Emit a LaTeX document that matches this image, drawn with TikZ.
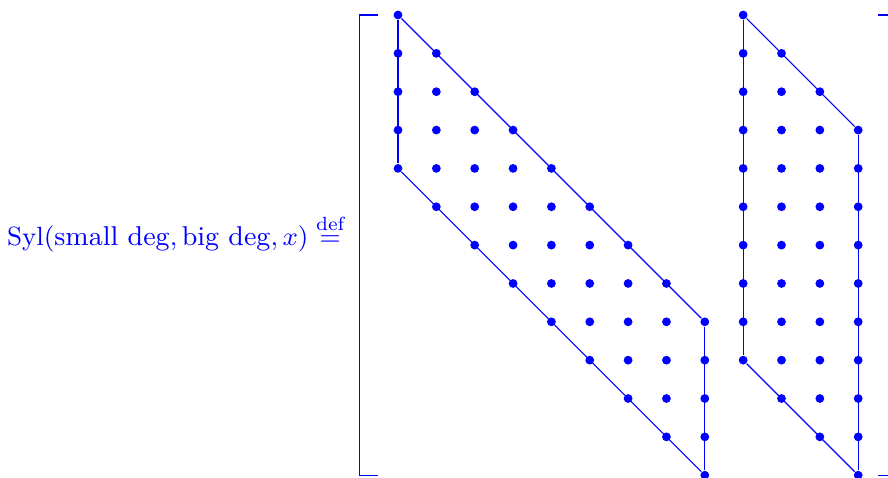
\documentclass[tikz,border=0pt]{standalone}
\usepackage{amsmath}
\usetikzlibrary{positioning}
\definecolor{entryColor}{RGB}{0,0,255}

\begin{document}
\begin{tikzpicture}[
        x=0.46cm, y=-0.46cm,
        entry/.style={circle, fill=entryColor, inner sep=0pt, minimum size=3pt},
        edge/.style={draw=entryColor, line width=0.4pt},
        bracket/.style={draw=entryColor, line width=0.4pt}
    ]
    \useasboundingbox (-10.378,-0.391) rectangle (12.777,12.047);
    % Label
    \node (label) [anchor=base east, text=entryColor, inner sep=0pt, font=\fontsize{9.3pt}{11pt}\selectfont] at (-1.38,6) {$\mathrm{Syl}(\text{small deg}, \text{big deg}, x) \stackrel{\text{def}}{=}$};

    % Brackets
    \draw [bracket] (-0.52,0) -- (-1,0) -- (-1,12) -- (-0.52,12);
    \draw [bracket] (12.52,0) -- (13,0) -- (13,12) -- (12.52,12);

    % Entries
    \foreach \j in {0,...,8}
        \foreach \i in {0,...,4}
            \node (a-\j-\i) [entry] at (\j,\j+\i) {};
    \foreach \j in {0,...,3}
        \foreach \i in {0,...,9}
            \node (b-\j-\i) [entry] at (\j+9,\j+\i) {};

    % Outlines
    \path [edge] (a-0-0) -- (a-0-4);
    \path [edge] (a-0-0) -- (a-8-0);
    \path [edge] (a-8-0) -- (a-8-4);
    \path [edge] (a-0-4) -- (a-8-4);
    \path [edge] (b-0-0) -- (b-0-9);
    \path [edge] (b-0-0) -- (b-3-0);
    \path [edge] (b-3-0) -- (b-3-9);
    \path [edge] (b-0-9) -- (b-3-9);
\end{tikzpicture}
\end{document}
